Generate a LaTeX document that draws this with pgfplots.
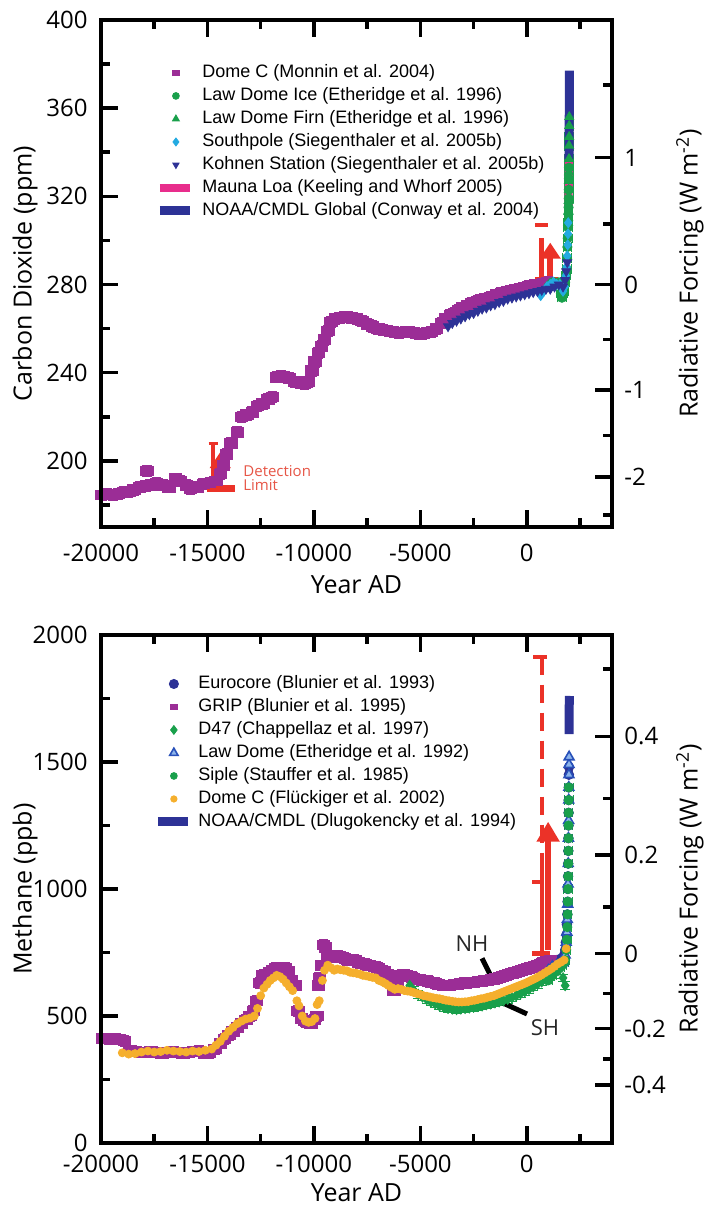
\documentclass[border=0pt]{standalone}
\usepackage{fontspec}
\setmainfont{Open Sans}
\newfontfamily\legfont{Liberation Sans}
\usepackage{pgfplots}
\pgfplotsset{compat=1.18}
\usetikzlibrary{arrows.meta}
\definecolor{cpurple}{RGB}{155,45,150}
\definecolor{cgreen}{RGB}{25,160,75}
\definecolor{clblue}{RGB}{35,170,225}
\definecolor{cnavy}{RGB}{45,50,150}
\definecolor{cblue}{RGB}{40,80,185}
\definecolor{ctri}{RGB}{140,180,235}
\definecolor{cpink}{RGB}{232,45,140}
\definecolor{cred}{RGB}{235,50,40}
\definecolor{ctxt}{RGB}{230,85,70}
\definecolor{corange}{RGB}{245,175,45}
\pgfplotsset{
 markleg/.style={legend image code/.code={\path[draw=none,fill=none] (0pt,-3.5pt) rectangle (16pt,3.5pt); \draw[##1,mark size=#1] plot coordinates {(8pt,0pt)};}},
 lineleg/.style={legend image code/.code={\path[draw=none,fill=none] (0pt,-3.5pt) rectangle (16pt,3.5pt); \draw[##1] (0pt,0pt) -- (15pt,0pt);}},
 base/.style={
   scale only axis, width=255.5pt,
   xmin=-20000, xmax=4000,
   scaled x ticks=false, scaled y ticks=false,
   axis line style={-,line width=2.2pt},
   tick style={line width=1.8pt, black},
   major tick length=8.5pt, minor tick length=4.5pt,
   tick align=inside,
   tick label style={font=\fontsize{12}{14}\selectfont},
   label style={font=\fontsize{12.5}{14}\selectfont},
   xtick={-20000,-15000,-10000,-5000,0},
   xticklabels={-20000,-15000,-10000,-5000,0},
   minor xtick={-17500,-12500,-7500,-2500,2500},
   xtick pos=both, xticklabel pos=lower,
   yticklabel style={anchor=east, inner sep=0pt, xshift=-6.5pt},
   legend cell align=left,
 },
 rbase/.style={
   scale only axis, width=255.5pt,
   xmin=-20000, xmax=4000,
   scaled x ticks=false, scaled y ticks=false,
   hide x axis,
   axis line style={-,line width=2.2pt},
   tick style={line width=1.8pt, black},
   major tick length=8.5pt, minor tick length=4.5pt,
   tick align=inside,
   tick label style={font=\fontsize{12}{14}\selectfont},
   label style={font=\fontsize{12.5}{14}\selectfont},
   ytick pos=right, yticklabel pos=right,
   yticklabel style={anchor=west, inner sep=0pt, xshift=6pt},
 },
}
\begin{document}
\begin{tikzpicture}
\useasboundingbox (0pt,0pt) rectangle (355pt,606pt);
% ================= CO2 =================
\begin{axis}[base, height=253.5pt, at={(50.5pt,342.5pt)}, anchor=south west,
  ymin=170, ymax=400,
  ytick={200,240,280,320,360,400}, yticklabels={200,240,280,320,360,400},
  minor ytick={180,220,260,300,340,380}, ytick pos=left,
  xticklabel style={anchor=center, yshift=-13pt},
  xlabel={Year AD}, xlabel style={at={(axis description cs:0.5,-0.1144)}, anchor=center},
  ylabel={Carbon Dioxide (ppm)}, ylabel style={at={(axis description cs:-0.1487,0.5)}, anchor=center},
  legend style={at={(0.094,0.922)}, anchor=north west, draw=none, fill=none,
    font=\legfont\fontsize{9}{10}\selectfont, row sep=2.5pt, column sep=4pt,
    nodes={inner sep=0pt, text height=7pt, text depth=2pt}},
]
\addplot[only marks, mark=square*, color=cpurple, mark size=2.4pt, mark options={xscale=1.3}, markleg=1.4pt,
  error bars/.cd, y dir=both, y fixed=2.5, error bar style={line width=1.5pt}] coordinates {
(-19950,184.5)(-19700,185)(-19450,184.5)(-19200,185)(-18950,186)(-18700,186)(-18450,187)(-18200,188)(-17850,195.5)(-17950,188.5)(-17700,189)(-17400,190)(-17100,189)(-16800,188)(-16500,192)(-16300,191)(-16000,189)(-15800,187.5)(-15500,188)(-15200,189.5)(-14900,190)(-14600,191)(-14400,194)(-14250,198)(-14100,203)(-13900,208)(-13600,213)(-13400,220)(-13150,221)(-12900,222)(-12650,225)(-12400,226)(-12150,228)(-11950,229)(-11750,238)(-11550,238.5)(-11350,238)(-11150,237.5)(-10900,236)(-10650,235.5)(-10450,235)(-10250,236)(-10100,241)(-9950,245)(-9800,249)(-9650,252)(-9500,255)(-9350,259)(-9200,263)(-9000,264.5)(-8750,265)(-8500,265.5)(-8250,265)(-8000,264.5)(-7750,263.5)(-7500,262)(-7250,261)(-7000,260)(-6750,259.5)(-6500,259)(-6250,258.5)(-6000,258)(-5750,258.5)(-5500,258.5)(-5250,258)(-5000,257.5)(-4750,258)(-4500,258.5)(-4250,260)(-4000,262.5)(-3800,264.5)(-3600,266)(-3400,267)(-3200,268.5)(-3000,269.5)(-2800,270.5)(-2600,271.5)(-2400,272)(-2200,273)(-2000,273.5)(-1800,274)(-1600,274.5)(-1400,275.5)(-1200,276)(-1000,276.5)(-800,277)(-600,277.5)(-400,278)(-200,278.5)(0,279)(200,279.5)(400,280)(600,280)(800,280.5)(1000,281)
};
\addlegendentry{Dome C (Monnin et al. 2004)}
\addplot[only marks, mark=*, color=cgreen, mark size=2.3pt, markleg=1.7pt,
  error bars/.cd, x dir=both, x fixed=200, error bar style={line width=1.2pt}] coordinates {
(1010,279)(1100,280)(1200,281)(1300,281)(1400,280)(1500,281)(1600,276)(1650,274)(1700,276)(1750,277)(1800,281)(1840,284)(1870,287)(1890,292)(1905,297)(1920,301)(1935,306)(1944,309)(1953,312)(1959,315)(1965,319)(1969,323)(1973,328)(1978,333)
};
\addlegendentry{Law Dome Ice (Etheridge et al. 1996)}
\addplot[only marks, mark=triangle*, color=cgreen, mark size=2.6pt, markleg=2pt,
  error bars/.cd, x dir=both, x fixed=200, error bar style={line width=1.2pt}] coordinates {
(1940,308)(1955,313)(1962,318)(1968,323)(1972,327)(1976,331)(1980,337)(1984,343)(1987,347)(1990,352)(1993,356)
};
\addlegendentry{Law Dome Firn (Etheridge et al. 1996)}
\addplot[only marks, mark=diamond*, color=clblue, mark size=2.5pt, markleg=2pt] coordinates {
(650,275)(800,277)(950,279)(1100,280)(1250,281)(1400,280)(1550,280)(1700,277)(1780,279)(1830,284)(1870,288)(1900,293)(1920,298)(1935,303)(1945,308)
};
\addlegendentry{Southpole (Siegenthaler et al. 2005b)}
\addplot[only marks, mark=triangle*, mark options={rotate=180}, color=cnavy, mark size=2.6pt, markleg=1.8pt] coordinates {
(-3700,261)(-3500,262.5)(-3300,263.5)(-3100,264.5)(-2900,265.5)(-2700,266.5)(-2500,267)(-2300,268)(-2100,269)(-1900,269.5)(-1700,270.5)(-1500,271)(-1300,272)(-1100,272.5)(-900,273.5)(-700,274)(-500,274.5)(-300,275)(-100,275.5)(100,276)(300,276.5)(500,277)(700,277.5)(900,278)(1100,278)(1300,279)(1500,280)(1700,279)(1800,282)(1850,286)(1900,290)
};
\addlegendentry{Kohnen Station (Siegenthaler et al. 2005b)}
\addplot[color=cpink, line width=4pt, lineleg] coordinates {
(1958,315)(1965,320)(1970,325.7)(1975,331.1)(1980,338.7)(1985,346)(1990,354.4)(1995,360.9)(2000,369.5)(2004,375)
};
\addlegendentry{Mauna Loa (Keeling and Whorf 2005)}
\addplot[color=cnavy, line width=4.5pt, lineleg] coordinates {
(1979,336.8)(1985,345.5)(1990,353.9)(1995,360.7)(2000,368.8)(2004,377)
};
\addlegendentry{NOAA/CMDL Global (Conway et al. 2004)}
% detection-limit markers
\draw[cred, line width=1.6pt] (axis cs:-14950,208) -- (axis cs:-14500,208);
\draw[cred, line width=2pt] (axis cs:-14725,208) -- (axis cs:-14725,187);
\draw[cred, line width=3.2pt] (axis cs:-15000,187.5) -- (axis cs:-13700,187.5);
\draw[cred, line width=3pt, -{Triangle[width=10pt,length=8pt]}] (axis cs:-14400,189) -- (axis cs:-14400,204);
\node[anchor=west, align=left, text=ctxt, inner sep=0pt, font=\fontsize{7.5}{7}\selectfont] at (axis cs:-13330,192.4) {Detection\\Limit};
\draw[cred, line width=2.4pt] (axis cs:400,307) -- (axis cs:1000,307);
\draw[cred, line width=2.4pt] (axis cs:700,301) -- (axis cs:700,283);
\draw[cred, line width=3.2pt] (axis cs:400,282) -- (axis cs:1450,282);
\draw[cred, line width=3pt, -{Triangle[width=10pt,length=8pt]}] (axis cs:1100,284) -- (axis cs:1100,299);
\end{axis}
\begin{axis}[rbase, height=253.5pt, at={(50.5pt,342.5pt)}, anchor=south west,
  ymin=170, ymax=400,
  ytick={192.67,232.27,280,337.55}, yticklabels={-2,-1,0,1},
  minor ytick={175.47,211.54,255.02,307.43,370.62},
  ylabel={Radiative Forcing (W m\textsuperscript{-2})},
  ylabel style={at={(axis description cs:1.1526,0.5)}, anchor=center},
]
\addplot[draw=none] coordinates {(0,280)};
\end{axis}
% ================= CH4 =================
\begin{axis}[base, height=254pt, at={(50.5pt,34.5pt)}, anchor=south west,
  ymin=0, ymax=2000,
  ytick={0,500,1000,1500,2000}, yticklabels={0,500,1000,1500,2000},
  minor ytick={250,750,1250,1750}, ytick pos=left,
  xticklabel style={anchor=center, yshift=-10.5pt},
  xlabel={Year AD}, xlabel style={at={(axis description cs:0.5,-0.0984)}, anchor=center},
  ylabel={Methane (ppb)}, ylabel style={at={(axis description cs:-0.1487,0.5)}, anchor=center},
  legend style={at={(0.09,0.93)}, anchor=north west, draw=none, fill=none,
    font=\legfont\fontsize{9}{10}\selectfont, row sep=2.5pt, column sep=3pt,
    nodes={inner sep=0pt, text height=7pt, text depth=2pt}},
]
\addplot[only marks, mark=*, color=cnavy, mark size=2.4pt, markleg=2.3pt] coordinates {
(1000,705)(1100,710)(1200,712)(1300,716)(1400,720)(1500,722)(1600,725)(1700,730)(1750,740)(1800,760)(1830,790)(1860,820)(1880,860)(1900,900)(1915,950)(1925,1000)(1935,1050)(1942,1100)(1948,1150)(1953,1200)(1958,1250)(1962,1300)(1966,1350)(1970,1400)(1975,1450)(1980,1480)
};
\addlegendentry{Eurocore (Blunier et al. 1993)}
\addplot[only marks, mark=square*, color=cpurple, mark size=2.4pt, mark options={xscale=1.3}, markleg=1.4pt,
  error bars/.cd, y dir=both, y fixed=20, error bar style={line width=1.2pt}] coordinates {
(-19900,412)(-19650,410)(-19400,412)(-19150,408)(-18900,402)(-18650,365)(-18400,360)(-18150,356)(-17900,358)(-17650,360)(-17400,356)(-17150,353)(-16900,358)(-16650,362)(-16400,356)(-16150,352)(-15900,356)(-15650,360)(-15400,363)(-15150,352)(-14900,355)(-14650,370)(-14400,392)(-14200,410)(-14000,425)(-13800,440)(-13600,455)(-13400,470)(-13200,485)(-13000,500)(-12850,520)(-12700,560)(-12550,630)(-12400,660)(-12250,665)(-12100,672)(-11950,680)(-11800,690)(-11650,688)(-11500,684)(-11350,690)(-11200,675)(-11050,640)(-10900,620)(-10750,520)(-10600,490)(-10450,480)(-10300,475)(-10150,470)(-10000,485)(-9850,500)(-9800,620)(-9750,650)(-9650,700)(-9550,780)(-9450,770)(-9350,740)(-9250,730)(-9100,735)(-8950,740)(-8800,735)(-8650,730)(-8500,725)(-8350,720)(-8200,722)(-8050,718)(-7900,712)(-7750,708)(-7600,705)(-7450,700)(-7300,698)(-7150,695)(-7000,690)(-6850,680)(-6700,675)(-6550,665)(-6400,650)(-6250,600)(-6100,640)(-5950,660)(-5800,665)(-5650,660)(-5500,655)(-5350,650)(-5200,645)(-5050,645)(-4900,640)(-4750,640)(-4600,635)(-4450,632)(-4300,630)(-4150,625)(-4000,622)(-3850,620)(-3700,620)(-3550,622)(-3400,625)(-3250,625)(-3100,628)(-2950,630)(-2800,630)(-2650,632)(-2500,632)(-2350,635)(-2200,636)(-2050,638)(-1900,640)(-1750,642)(-1600,645)(-1450,648)(-1300,652)(-1150,655)(-1000,660)(-850,665)(-700,668)(-550,672)(-400,676)(-250,680)(-100,684)(50,688)(200,692)(350,696)(500,700)(650,705)(800,710)(950,715)(1100,720)
};
\addlegendentry{GRIP (Blunier et al. 1995)}
\addplot[only marks, mark=diamond*, color=cgreen, mark size=2.6pt, markleg=2.2pt,
  error bars/.cd, y dir=both, y fixed=15, error bar style={line width=1pt}] coordinates {
(-5500,620)(-5300,600)(-5100,585)(-4900,575)(-4700,565)(-4500,555)(-4300,548)(-4100,540)(-3900,535)(-3700,530)(-3500,528)(-3300,526)(-3100,528)(-2900,530)(-2700,532)(-2500,535)(-2300,538)(-2100,540)(-1900,545)(-1700,548)(-1500,552)(-1300,556)(-1100,560)(-900,566)(-700,572)(-500,580)(-300,588)(-100,596)(100,605)(300,615)(500,625)(700,635)(900,645)(1100,655)(1300,665)(1500,680)(1700,650)(1800,620)
};
\addlegendentry{D47 (Chappellaz et al. 1997)}
\addplot[only marks, mark=triangle*, mark options={draw=cblue, fill=ctri, line width=0.8pt}, color=cblue, mark size=2.8pt, markleg=2.4pt] coordinates {
(1010,680)(1200,695)(1400,700)(1600,705)(1700,710)(1800,740)(1850,790)(1880,830)(1900,880)(1920,940)(1935,1020)(1945,1100)(1955,1200)(1962,1270)(1968,1350)(1973,1400)(1978,1450)(1982,1490)(1985,1520)
};
\addlegendentry{Law Dome (Etheridge et al. 1992)}
\addplot[only marks, mark=*, color=cgreen, mark size=2.3pt, markleg=1.7pt,
  error bars/.cd, x dir=both, x fixed=200, error bar style={line width=1.2pt}] coordinates {
(1000,640)(1200,660)(1400,680)(1550,690)(1650,700)(1750,710)(1800,720)(1850,760)(1880,800)(1900,850)(1915,900)(1925,950)(1935,1000)(1942,1050)(1948,1100)(1953,1150)(1957,1200)(1960,1250)(1963,1300)(1966,1350)(1970,1400)
};
\addlegendentry{Siple (Stauffer et al. 1985)}
\addplot[only marks, mark=*, color=corange, mark size=2pt, markleg=1.6pt] coordinates {
(-19000,355)(-18700,350)(-18400,352)(-18100,358)(-17800,362)(-17500,358)(-17200,360)(-16900,365)(-16600,362)(-16300,360)(-16000,358)(-15700,362)(-15400,360)(-15100,365)(-14800,370)(-14600,385)(-14400,400)(-14200,420)(-14000,440)(-13800,455)(-13600,470)(-13400,480)(-13200,488)(-13000,492)(-12800,500)(-12650,530)(-12500,580)(-12350,610)(-12200,625)(-12050,640)(-11900,650)(-11750,660)(-11600,655)(-11450,645)(-11300,630)(-11150,615)(-11000,600)(-10800,560)(-10700,540)(-10550,500)(-10400,480)(-10250,475)(-10100,478)(-9950,490)(-9850,545)(-9750,560)(-9600,640)(-9500,680)(-9350,700)(-9200,690)(-9050,680)(-8900,685)(-8750,682)(-8600,680)(-8450,678)(-8300,672)(-8150,670)(-8000,668)(-7850,665)(-7700,660)(-7550,658)(-7400,655)(-7250,652)(-7100,650)(-6950,640)(-6800,635)(-6650,628)(-6500,620)(-6350,612)(-6200,605)(-6050,608)(-5900,605)(-5750,600)(-5600,598)(-5450,596)(-5300,592)(-5150,588)(-5000,585)(-4850,580)(-4700,578)(-4550,575)(-4400,572)(-4250,570)(-4100,568)(-3950,565)(-3800,562)(-3650,560)(-3500,558)(-3350,556)(-3200,555)(-3050,555)(-2900,556)(-2750,557)(-2600,560)(-2450,562)(-2300,565)(-2150,568)(-2000,570)(-1850,574)(-1700,577)(-1550,580)(-1400,585)(-1250,590)(-1100,595)(-950,600)(-800,605)(-650,610)(-500,615)(-350,620)(-200,625)(-50,630)(100,636)(250,642)(400,648)(550,655)(700,662)(850,670)(1000,678)(1150,686)(1300,695)(1450,705)(1600,712)(1750,720)(1850,765)
};
\addlegendentry{Dome C (Flückiger et al. 2002)}
\addplot[color=cnavy, line width=4.5pt, lineleg] coordinates {
(1983,1610)(1988,1690)(1992,1725)(1996,1740)(2000,1752)(2004,1760)
};
\addlegendentry{NOAA/CMDL (Dlugokencky et al. 1994)}
% detection-limit markers
\draw[cred, line width=2pt, dash pattern=on 9pt off 5pt] (axis cs:700,1915) -- (axis cs:700,1133);
\draw[cred, line width=2pt] (axis cs:300,1915) -- (axis cs:950,1915);
\draw[cred, line width=2pt] (axis cs:700,1133) -- (axis cs:700,746);
\draw[cred, line width=2pt] (axis cs:250,1027) -- (axis cs:700,1027);
\draw[cred, line width=2.4pt] (axis cs:250,746) -- (axis cs:1100,746);
\draw[cred, line width=3pt, -{Triangle[width=11pt,length=10pt]}] (axis cs:1000,760) -- (axis cs:1000,1265);
% NH / SH
\node[font=\fontsize{11}{12}\selectfont, text=black!85] at (axis cs:-2574,785) {NH};
\draw[black, line width=2.5pt] (axis cs:-2104,727) -- (axis cs:-1729,664);
\node[font=\fontsize{11}{12}\selectfont, text=black!85] at (axis cs:855,453) {SH};
\draw[black, line width=2.5pt] (axis cs:-1118,551) -- (axis cs:9,508);
\end{axis}
\begin{axis}[rbase, height=254pt, at={(50.5pt,34.5pt)}, anchor=south west,
  ymin=0, ymax=2000,
  ytick={228,450,746,1133,1601}, yticklabels={-0.4,-0.2,0,0.2,0.4},
  minor ytick={330,588,929,1357,1865},
  ylabel={Radiative Forcing (W m\textsuperscript{-2})},
  ylabel style={at={(axis description cs:1.1526,0.5)}, anchor=center},
]
\addplot[draw=none] coordinates {(0,746)};
\end{axis}
\end{tikzpicture}
\end{document}
